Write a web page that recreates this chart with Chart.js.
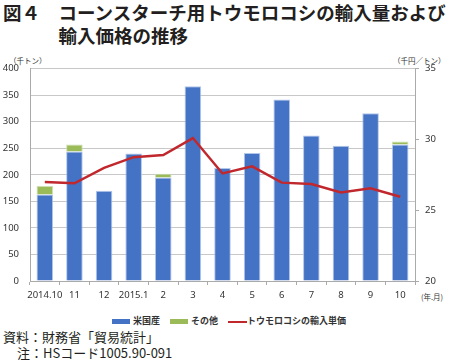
<!DOCTYPE html>
<html>
<head>
<meta charset="utf-8">
<script src="https://cdn.jsdelivr.net/npm/chart.js@4/dist/chart.umd.min.js"></script>
<style>
  body { margin: 0; width: 450px; height: 361px; background: #fff; position: relative; overflow: hidden;
         font-family: "Noto Sans CJK JP", "Noto Sans", sans-serif; color: #231f20; }
  .title { position: absolute; left: 3px; top: 1px; font-size: 18.5px; font-weight: 700; line-height: 22.5px; white-space: nowrap; }
  .title .l2 { padding-left: 55.5px; }
  .unit { position: absolute; top: 55px; font-size: 7.5px; color: #333; white-space: nowrap; }
  #wrap { position: absolute; left: 0; top: 52px; width: 450px; height: 254px; }
  .legend { position: absolute; top: 314px; left: 0; width: 450px; font-size: 9px; font-weight: 700; color: #333; white-space: nowrap; }
  .legend span { position: absolute; top: 0; }
  .legend i { position: absolute; display: block; }
  .src { position: absolute; left: 3px; font-size: 13px; white-space: nowrap; line-height: 16px; }
</style>
</head>
<body>
<div class="title">図４　コーンスターチ用トウモロコシの輸入量および<br><span class="l2">輸入価格の推移</span></div>
<div class="unit" style="left:9px">（千トン）</div>
<div class="unit" style="left:393px">（千円／トン）</div>
<div class="unit" style="left:421px; top:291px;">(年.月)</div>
<div id="wrap"><canvas id="myChart" width="450" height="254"></canvas></div>
<div class="legend">
  <i style="left:112px; top:5px; width:18px; height:5px; background:#4472c4"></i><span style="left:133px">米国産</span>
  <i style="left:170px; top:5px; width:18px; height:5px; background:#9bbb59"></i><span style="left:191px">その他</span>
  <i style="left:228px; top:6.5px; width:19px; height:2px; background:#c0282d"></i><span style="left:247px">トウモロコシの輸入単価</span>
</div>
<div class="src" style="top:329px">資料：財務省「貿易統計」</div>
<div class="src" style="top:345px; left:17px">注：HSコード1005.90-091</div>
<script>
var months = ['2014.10', '11', '12', '2015.1', '2', '3', '4', '5', '6', '7', '8', '9', '10'];
var usaVolume = [163, 244, 170, 240, 195, 367, 213, 241, 342, 274, 255, 316, 257];
var otherVolume = [16, 13, 0, 0, 7, 0, 0, 0, 0, 0, 0, 0, 6];
var unitPrice = [27.0, 26.9, 28.0, 28.75, 28.9, 30.1, 27.6, 28.1, 26.95, 26.85, 26.25, 26.55, 25.95];
var volumeTicks = [0, 400, 50];
var priceTicks = [20, 35, 5];

var ctx = document.getElementById('myChart').getContext('2d');
var myChart = new Chart(ctx, {
    type: 'bar',
    data: {
        labels: months,
        datasets: [{
            label: 'トウモロコシの輸入単価',
            type: 'line',
            data: unitPrice,
            yAxisID: 'y1',
            borderColor: '#c0282d',
            borderWidth: 2.5,
            pointRadius: 0,
            tension: 0,
            order: 0
        }, {
            label: '米国産',
            data: usaVolume,
            backgroundColor: '#4472c4',
            borderColor: 'rgba(170,192,232,0.9)',
            borderWidth: 1,
            stack: 'vol',
            order: 1
        }, {
            label: 'その他',
            data: otherVolume,
            backgroundColor: '#9bbb59',
            borderColor: 'rgba(200,220,170,0.9)',
            borderWidth: 1,
            stack: 'vol',
            order: 1
        }]
    },
    options: {
        responsive: false,
        animation: false,
        layout: { padding: { top: 0, left: 0, right: 0, bottom: 0 } },
        plugins: { legend: { display: false }, tooltip: { enabled: false } },
        datasets: { bar: { categoryPercentage: 1, barPercentage: 0.56 } },
        scales: {
            x: {
                stacked: true,
                grid: { display: true, drawOnChartArea: false, offset: true, tickLength: 4, color: '#aaaaaa' },
                border: { color: '#aaaaaa' },
                ticks: { color: '#333', padding: 5, maxRotation: 0, autoSkip: false,
                         font: { family: 'Noto Sans, sans-serif', size: 9.5 } },
                afterFit: function (scale) { scale.height = 25; }
            },
            y: {
                stacked: true,
                min: volumeTicks[0], max: volumeTicks[1],
                ticks: { stepSize: volumeTicks[2], color: '#333', padding: 11,
                         font: { family: 'Noto Sans, sans-serif', size: 9.5 } },
                grid: { color: '#c8c8c8', tickLength: 0 },
                border: { color: '#aaaaaa' },
                afterFit: function (scale) { scale.width = 30; }
            },
            y1: {
                position: 'right',
                min: priceTicks[0], max: priceTicks[1],
                ticks: { stepSize: priceTicks[2], color: '#333', padding: 6,
                         font: { family: 'Noto Sans, sans-serif', size: 9.5 } },
                grid: { drawOnChartArea: false, tickLength: 4, color: '#aaaaaa' },
                border: { color: '#aaaaaa' },
                afterFit: function (scale) { scale.width = 35; }
            }
        }
    }
});
</script>
</body>
</html>
